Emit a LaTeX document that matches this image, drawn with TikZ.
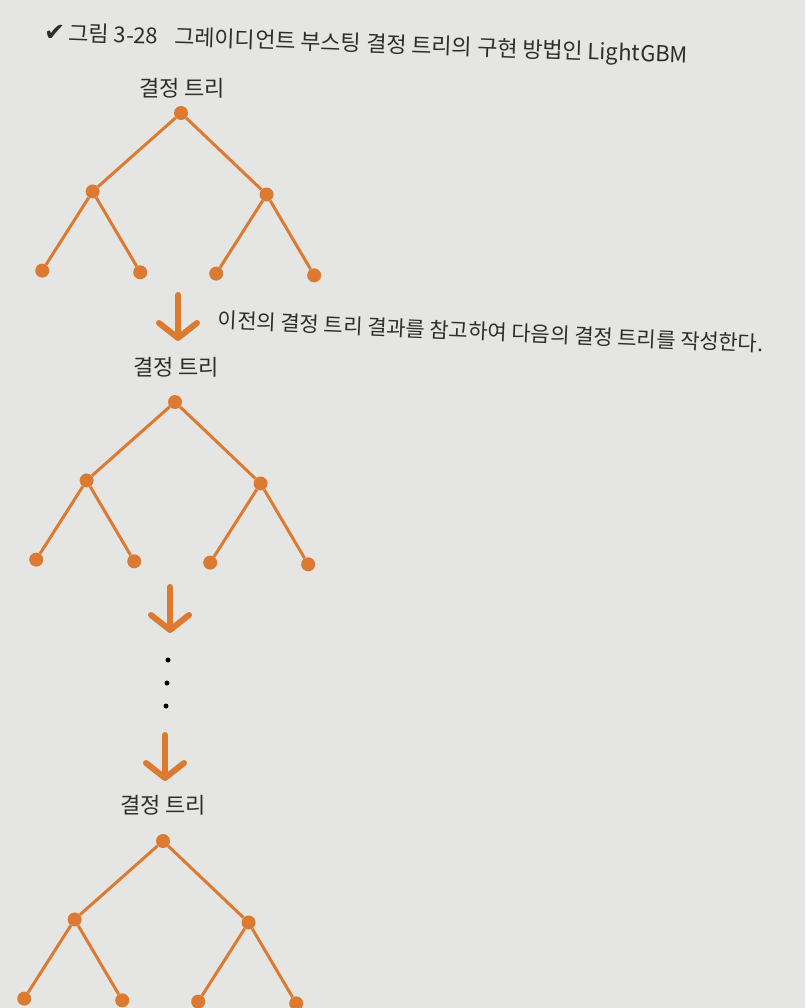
\documentclass[tikz,border=0pt]{standalone}
\usepackage{fontspec}
\setmainfont{Noto Sans CJK KR}
\newfontfamily\symfont{DejaVu Sans}
\usetikzlibrary{arrows.meta}
\definecolor{treeorange}{RGB}{221,122,50}
\definecolor{paper}{RGB}{229,229,227}
\definecolor{ink}{RGB}{45,45,45}
\begin{document}
\begin{tikzpicture}[
    x=1pt, y=-1pt,
    grow=-91,
    level distance=80pt,
    level 1/.style={sibling distance=174pt},
    level 2/.style={sibling distance=98pt},
    every node/.style={inner sep=0pt, text=ink, font=\fontsize{22}{26}\selectfont},
    vertex/.style={circle, fill=treeorange, minimum size=14pt},
    every child node/.style={vertex},
    edge from parent/.style={draw=treeorange, line width=3pt},
    stepdown/.style={draw=treeorange, line width=6pt, line cap=round,
        -{Straight Barb[length=15pt,width=38pt,round]}},
    dot/.style={circle, fill=black, minimum size=5pt}
]
\fill[paper] (0,0) rectangle (805,1008);
\useasboundingbox (0,0) rectangle (805,1008);

% caption
\node[anchor=west, rotate=-2] (title) at (44,34)
    {{\symfont\fontsize{25}{26}\selectfont\color{ink}✔}\,그림 3-28\enspace\ 그레이디언트 부스팅 결정 트리의 구현 방법인 LightGBM};

% first tree
\node (lbl1) at (182,88) {결정 트리};
\node[vertex] (t1) at (181,113) {}
    child {node {}
        child {node {}}
        child {node {}}}
    child {node {}
        child {node {}}
        child {node {}}};

\coordinate (a1s) at (178,295);
\coordinate (a1e) at (178,341);
\draw[stepdown] (a1s) -- (a1e);
\node[anchor=west, rotate=-2.5, font=\fontsize{21}{25}\selectfont] (note) at (218,320)
    {이전의 결정 트리 결과를 참고하여 다음의 결정 트리를 작성한다.};

% second tree
\node (lbl2) at (176,367) {결정 트리};
\node[vertex] (t2) at (175,402) {}
    child {node {}
        child {node {}}
        child {node {}}}
    child {node {}
        child {node {}}
        child {node {}}};

\coordinate (a2s) at (170,587);
\coordinate (a2e) at (170,633);
\draw[stepdown] (a2s) -- (a2e);

\node[dot] (d1) at (168,660) {};
\node[dot] (d2) at (167,683) {};
\node[dot] (d3) at (166,706) {};

\coordinate (a3s) at (165,735);
\coordinate (a3e) at (165,781);
\draw[stepdown] (a3s) -- (a3e);

% last tree
\node (lbl3) at (163,805) {결정 트리};
\node[vertex] (t3) at (163,841) {}
    child {node {}
        child {node {}}
        child {node {}}}
    child {node {}
        child {node {}}
        child {node {}}};
\end{tikzpicture}
\end{document}
